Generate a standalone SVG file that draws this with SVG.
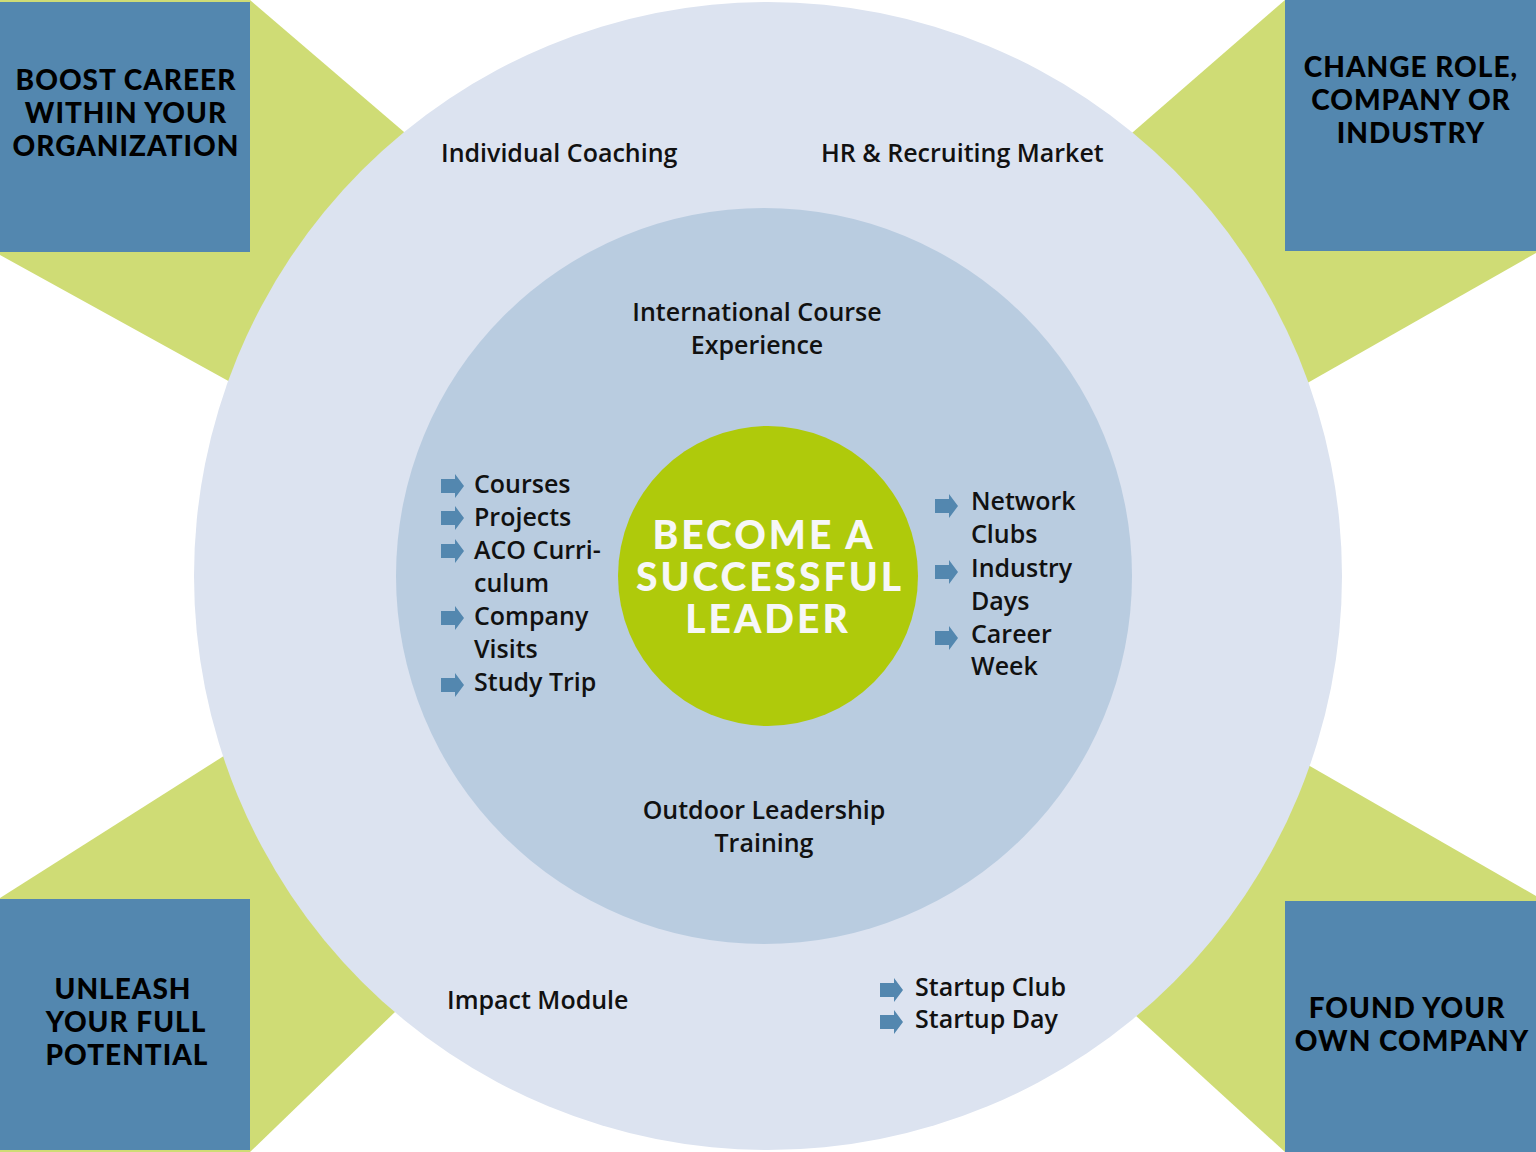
<svg xmlns="http://www.w3.org/2000/svg" xmlns:xlink="http://www.w3.org/1999/xlink" width="1536" height="1152" viewBox="0 0 1536 1152">
<style>
.wedge{fill:#CFDC75}
.box{fill:#5387AF}
.boxt{font-family:Lato,"Open Sans","Liberation Sans",sans-serif;font-weight:900;font-size:28px;letter-spacing:1px;fill:#000;text-anchor:middle}
.body{font-family:"Open Sans","Liberation Sans",sans-serif;font-weight:600;font-size:25px;fill:#111}
.mid{text-anchor:middle}
.ctr{font-family:Lato,"Open Sans","Liberation Sans",sans-serif;font-weight:900;font-size:39px;letter-spacing:3px;fill:#F7F7F7;text-anchor:middle}
.arr{fill:#5387AF}
</style>
<defs>
<path id="bul" d="M0,-7 H14 V-12 L23,0 L14,12 V7 H0 Z"/>
</defs>
<rect width="1536" height="1152" fill="#FFFFFF"/>
<g id="wedges">
<polygon class="wedge" points="0,0 250,0 600,300 500,531 0,255"/>
<polygon class="wedge" points="1285,0 1536,0 1536,253 1000,558 950,291"/>
<polygon class="wedge" points="0,898 550,549 600,814 250,1152 0,1152"/>
<polygon class="wedge" points="1536,896 1536,1152 1285,1152 950,846 1000,588"/>
</g>
<g id="outer-ring">
<circle cx="768" cy="576" r="574" fill="#DCE3F0"/>
</g>
<g id="inner-ring">
<circle cx="764" cy="576" r="368" fill="#B9CCE0"/>
</g>
<g id="core">
<circle cx="768" cy="576" r="150" fill="#AFCA0B"/>
<text class="ctr" x="764" y="549">BECOME A</text>
<text class="ctr" x="770" y="591">SUCCESSFUL</text>
<text class="ctr" x="768" y="633">LEADER</text>
</g>
<g id="box-boost">
<rect class="box" x="0" y="2" width="250" height="250"/>
<text class="boxt" x="126" y="90">BOOST CAREER</text>
<text class="boxt" x="126" y="123">WITHIN YOUR</text>
<text class="boxt" x="126" y="156">ORGANIZATION</text>
</g>
<g id="box-change">
<rect class="box" x="1285" y="0" width="251" height="251"/>
<text class="boxt" x="1411" y="77">CHANGE ROLE,</text>
<text class="boxt" x="1411" y="110">COMPANY OR</text>
<text class="boxt" x="1411" y="143">INDUSTRY</text>
</g>
<g id="box-unleash">
<rect class="box" x="0" y="899" width="250" height="251"/>
<text class="boxt" x="123" y="999">UNLEASH</text>
<text class="boxt" x="126" y="1032">YOUR FULL</text>
<text class="boxt" x="127" y="1065">POTENTIAL</text>
</g>
<g id="box-found">
<rect class="box" x="1285" y="901" width="251" height="251"/>
<text class="boxt" x="1407" y="1018">FOUND YOUR</text>
<text class="boxt" x="1412" y="1051">OWN COMPANY</text>
</g>
<g id="label-coaching">
<text class="body" x="441" y="162">Individual Coaching</text>
</g>
<g id="label-hr">
<text class="body" x="821" y="162">HR &amp; Recruiting Market</text>
</g>
<g id="label-international">
<text class="body mid" x="757" y="321">International Course</text>
<text class="body mid" x="757" y="354">Experience</text>
</g>
<g id="label-outdoor">
<text class="body mid" x="764" y="819">Outdoor Leadership</text>
<text class="body mid" x="764" y="852">Training</text>
</g>
<g id="label-impact">
<text class="body" x="447" y="1009">Impact Module</text>
</g>
<g id="list-left">
<use href="#bul" class="arr" x="441" y="486"/>
<use href="#bul" class="arr" x="441" y="518"/>
<use href="#bul" class="arr" x="441" y="551"/>
<use href="#bul" class="arr" x="441" y="618"/>
<use href="#bul" class="arr" x="441" y="685"/>
<text class="body" x="474" y="493">Courses</text>
<text class="body" x="474" y="526">Projects</text>
<text class="body" x="474" y="559">ACO Curri-</text>
<text class="body" x="474" y="592">culum</text>
<text class="body" x="474" y="625">Company</text>
<text class="body" x="474" y="658">Visits</text>
<text class="body" x="474" y="691">Study Trip</text>
</g>
<g id="list-right">
<use href="#bul" class="arr" x="935" y="506"/>
<use href="#bul" class="arr" x="935" y="572"/>
<use href="#bul" class="arr" x="935" y="638"/>
<text class="body" x="971" y="510">Network</text>
<text class="body" x="971" y="543">Clubs</text>
<text class="body" x="971" y="577">Industry</text>
<text class="body" x="971" y="610">Days</text>
<text class="body" x="971" y="643">Career</text>
<text class="body" x="971" y="675">Week</text>
</g>
<g id="list-startup">
<use href="#bul" class="arr" x="880" y="990"/>
<use href="#bul" class="arr" x="880" y="1022"/>
<text class="body" x="915" y="996">Startup Club</text>
<text class="body" x="915" y="1028">Startup Day</text>
</g>
<g id="connectors"></g>
</svg>
